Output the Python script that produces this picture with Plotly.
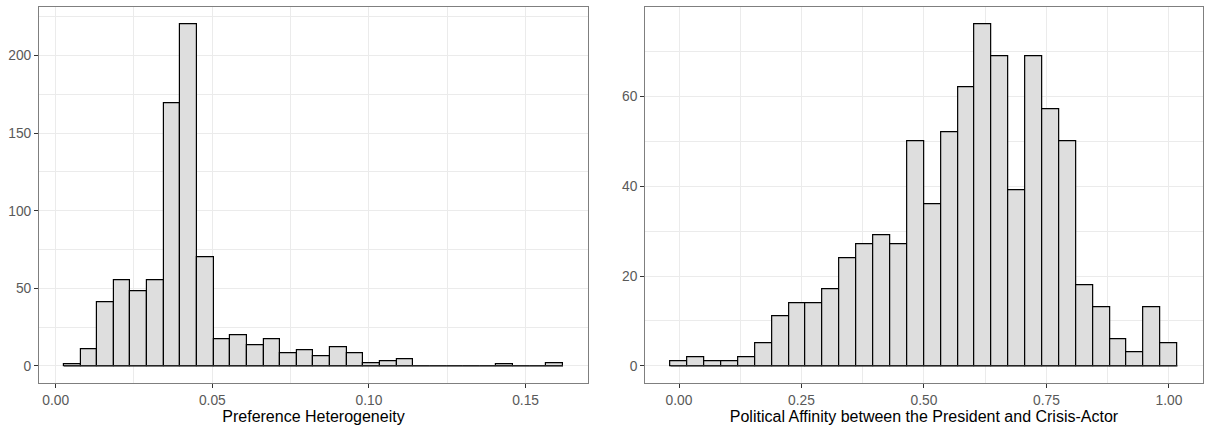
import plotly.graph_objects as go
import numpy as np

# ---- data ----
pref_counts = [1, 11, 41, 55, 48, 55, 169, 220, 70, 17, 20, 13, 17, 8, 10,
               6, 12, 8, 2, 3, 4, 0, 0, 0, 0, 0, 1, 0, 0, 2]
pref_first_center = 0.0053
pref_bin_width = 0.00531

aff_counts = [1, 2, 1, 1, 2, 5, 11, 14, 14, 17, 24, 27, 29, 27, 50,
              36, 52, 62, 76, 69, 39, 69, 57, 50, 18, 13, 6, 3, 13, 5]
aff_first_center = 0.0
aff_bin_width = 1 / 29

pref_xticks = [0.00, 0.05, 0.10, 0.15]
pref_xlabels = ["0.00", "0.05", "0.10", "0.15"]
pref_yticks = [0, 50, 100, 150, 200]
aff_xticks = [0.00, 0.25, 0.50, 0.75, 1.00]
aff_xlabels = ["0.00", "0.25", "0.50", "0.75", "1.00"]
aff_yticks = [0, 20, 40, 60]

FONT = "Liberation Sans"
FILL = "#DEDEDE"
GRID = "#EBEBEB"
BORDER = "#7f7f7f"

fig = go.Figure()


def add_hist(counts, c0, w, xa, ya):
    centers = c0 + w * np.arange(len(counts))
    fig.add_trace(go.Bar(
        x=centers, y=counts, width=w,
        marker=dict(color=FILL, line=dict(color="black", width=1.2)),
        xaxis=xa, yaxis=ya, showlegend=False, hoverinfo="x+y",
    ))
    # baseline for empty bins (ggplot draws zero-height outlines)
    lo = centers[0] - w / 2
    hi = centers[-1] + w / 2
    fig.add_trace(go.Scatter(
        x=[lo, hi], y=[0, 0], mode="lines",
        line=dict(color="#333333", width=1.2),
        xaxis=xa, yaxis=ya, showlegend=False, hoverinfo="skip",
    ))
    return lo, hi


lo1, hi1 = add_hist(pref_counts, pref_first_center, pref_bin_width, "x", "y")
lo2, hi2 = add_hist(aff_counts, aff_first_center, aff_bin_width, "x2", "y2")


def exp_range(lo, hi, f=0.05):
    d = hi - lo
    return [lo - f * d, hi + f * d]


ydom = [0.1093, 0.983]

common_axis = dict(
    showline=True, mirror=True, linecolor=BORDER, linewidth=1,
    showgrid=True, gridcolor=GRID, gridwidth=1.1,
    zeroline=False,
    ticks="outside", ticklen=4, tickcolor="#333333", tickwidth=1,
    tickfont=dict(family=FONT, size=13.8, color="#595959"),
)

fig.update_layout(
    width=1209, height=430,
    margin=dict(l=0, r=0, t=0, b=0),
    paper_bgcolor="white", plot_bgcolor="white",
    bargap=0,
    font=dict(family=FONT),
    xaxis=dict(
        domain=[0.03226, 0.4863], range=exp_range(lo1, hi1),
        tickmode="array", tickvals=pref_xticks, ticktext=pref_xlabels,
        minor=dict(tick0=0.025, dtick=0.05, showgrid=True, gridcolor=GRID, gridwidth=0.6),
        title=dict(text="Preference Heterogeneity", standoff=2,
                   font=dict(family=FONT, size=16, color="black")),
        anchor="y", **common_axis,
    ),
    yaxis=dict(
        domain=ydom, range=exp_range(0, max(pref_counts)),
        tickmode="array", tickvals=pref_yticks,
        minor=dict(tick0=25, dtick=50, showgrid=True, gridcolor=GRID, gridwidth=0.6),
        anchor="x", **common_axis,
    ),
    xaxis2=dict(
        domain=[0.5337, 0.9948], range=exp_range(lo2, hi2),
        tickmode="array", tickvals=aff_xticks, ticktext=aff_xlabels,
        minor=dict(tick0=0.125, dtick=0.25, showgrid=True, gridcolor=GRID, gridwidth=0.6),
        title=dict(text="Political Affinity between the President and Crisis-Actor", standoff=2,
                   font=dict(family=FONT, size=16, color="black")),
        anchor="y2", **common_axis,
    ),
    yaxis2=dict(
        domain=ydom, range=exp_range(0, max(aff_counts)),
        tickmode="array", tickvals=aff_yticks,
        minor=dict(tick0=10, dtick=20, showgrid=True, gridcolor=GRID, gridwidth=0.6),
        anchor="x2", **common_axis,
    ),
)

fig.write_html("out.html")
